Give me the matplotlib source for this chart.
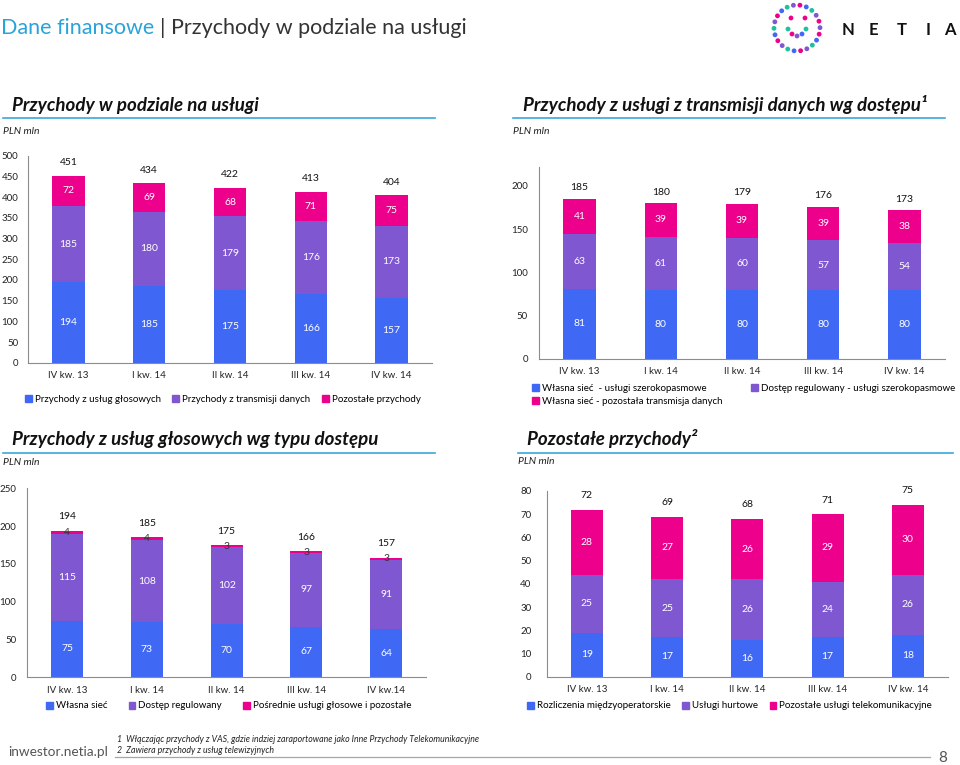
import numpy as np
import matplotlib.pyplot as plt
from matplotlib.patches import Patch
from matplotlib.lines import Line2D

plt.rcParams['font.family'] = ['Lato', 'DejaVu Sans']

W, H = 960, 765

BLUE = '#3f68f5'
PURPLE = '#7f57d0'
PINK = '#ec008c'
AXIS = '#8c8c8c'
LINE_BLUE = '#3aa8d8'

# data
quarters = ['IV kw. 13', 'I kw. 14', 'II kw. 14', 'III kw. 14', 'IV kw. 14']
quarters_voice = ['IV kw. 13', 'I kw. 14', 'II kw. 14', 'III kw. 14', 'IV kw.14']

rev_voice = [194, 185, 175, 166, 157]
rev_data = [185, 180, 179, 176, 173]
rev_other = [72, 69, 68, 71, 75]
rev_total = [451, 434, 422, 413, 404]
rev_names = ['Przychody z usług głosowych', 'Przychody z transmisji danych', 'Pozostałe przychody']

data_own_bb = [81, 80, 80, 80, 80]
data_reg_bb = [63, 61, 60, 57, 54]
data_own_other = [41, 39, 39, 39, 38]
data_total = [185, 180, 179, 176, 173]
data_names = ['Własna sieć  - usługi szerokopasmowe', 'Dostęp regulowany - usługi szerokopasmowe',
              'Własna sieć - pozostała transmisja danych']

voice_own = [75, 73, 70, 67, 64]
voice_reg = [115, 108, 102, 97, 91]
voice_indirect = [4, 4, 3, 3, 3]
voice_total = [194, 185, 175, 166, 157]
voice_names = ['Własna sieć', 'Dostęp regulowany', 'Pośrednie usługi głosowe i pozostałe']

other_ic = [19, 17, 16, 17, 18]
other_wholesale = [25, 25, 26, 24, 26]
other_telecom = [28, 27, 26, 29, 30]
other_total = [72, 69, 68, 71, 75]
other_names = ['Rozliczenia międzyoperatorskie', 'Usługi hurtowe', 'Pozostałe usługi telekomunikacyjne']

fig = plt.figure(figsize=(9.6, 7.65), dpi=100)


def fx(x):
    return x / W


def fy(y):
    return 1 - y / H


def px_axes(left, top, right, bottom):
    return fig.add_axes([fx(left), fy(bottom), (right - left) / W, (bottom - top) / H])


def stacked(ax, cats, series, totals, ymax, yticks, ypad, total_off):
    colors = [BLUE, PURPLE, PINK]
    x = np.arange(len(cats))
    base = np.zeros(len(cats))
    for vals, col in zip(series, colors):
        vals = np.array(vals, float)
        ax.bar(x, vals, 0.4, bottom=base, color=col, linewidth=0)
        for xi, b, v in zip(x, base, vals):
            tc = 'white' if v > 8 else '#333333'
            ax.text(xi, b + v / 2, f'{v:.0f}', ha='center', va='center', fontsize=7.5, color=tc)
        base += vals
    for xi, top, t in zip(x, base, totals):
        ax.annotate(str(t), (xi, top), xytext=(0, total_off), textcoords='offset pixels',
                    ha='center', va='center', fontsize=7.5, color='#111111')
    ax.set_xlim(-0.5, len(cats) - 0.5)
    ax.set_ylim(0, ymax)
    ax.set_yticks(yticks)
    ax.set_xticks(x)
    ax.set_xticklabels(cats)
    for s in ['top', 'right']:
        ax.spines[s].set_visible(False)
    for s in ['left', 'bottom']:
        ax.spines[s].set_color(AXIS)
        ax.spines[s].set_linewidth(0.8)
    ax.tick_params(length=0, labelsize=7, colors='#222222')
    ax.tick_params(axis='y', pad=ypad)
    ax.tick_params(axis='x', pad=6)
    ax.set_facecolor('none')


def legend(ax, names, x, y, ncol, colsp, order=None, labsp=0.3):
    colors = [BLUE, PURPLE, PINK]
    handles = [Patch(color=c, label=n) for c, n in zip(colors, names)]
    if order is not None:
        handles = [handles[i] for i in order]
    ax.legend(handles=handles, loc='center left', bbox_to_anchor=(fx(x), fy(y)),
              bbox_transform=fig.transFigure, ncol=ncol, frameon=False, fontsize=7,
              handlelength=0.7, handleheight=0.7, handletextpad=0.3,
              columnspacing=colsp, labelspacing=labsp, borderpad=0, borderaxespad=0)


# top left
ax1 = px_axes(28, 155.7, 432, 362.7)
stacked(ax1, quarters, [rev_voice, rev_data, rev_other], rev_total, 500,
        np.arange(0, 501, 50), 7, 13)
legend(ax1, rev_names, 25, 399, 3, 1.2)

# top right
ax2 = px_axes(539, 166.7, 945, 359)
stacked(ax2, quarters, [data_own_bb, data_reg_bb, data_own_other], data_total, 222,
        np.arange(0, 201, 50), 8, 11)
legend(ax2, data_names, 532, 395, 2, 3.0, order=[0, 2, 1], labsp=0.35)

# bottom left
ax3 = px_axes(27.3, 488.3, 426, 677.3)
stacked(ax3, quarters_voice, [voice_own, voice_reg, voice_indirect], voice_total, 250,
        np.arange(0, 251, 50), 8, 14)
legend(ax3, voice_names, 46, 706, 3, 2.2)

# bottom right
ax4 = px_axes(546.7, 491, 948, 676.7)
stacked(ax4, quarters, [other_ic, other_wholesale, other_telecom], other_total, 80,
        np.arange(0, 81, 10), 11, 14)
legend(ax4, other_names, 527, 706, 3, 1.2)

# section headers
heads = [
    (12, 105, 'Przychody w podziale na usługi', 3, 435, 117.5, 3, 131),
    (523, 105, 'Przychody z usługi z transmisji danych wg dostępu¹', 513, 945, 117.5, 513, 131),
    (12, 440, 'Przychody z usług głosowych wg typu dostępu', 3, 435, 452.5, 3, 463),
    (527, 438, 'Pozostałe przychody²', 518, 953, 452.5, 518, 462),
]
for tx, ty, txt, l0, l1, ly, px, py in heads:
    fig.text(fx(tx), fy(ty), txt, fontsize=13.5, fontweight='bold', style='italic',
             va='center', ha='left', color='#111111')
    fig.add_artist(Line2D([fx(l0), fx(l1)], [fy(ly), fy(ly)], color=LINE_BLUE, lw=1.2))
    fig.text(fx(px), fy(py), 'PLN mln', fontsize=7.5, style='italic', va='center', color='#222222')

# main title
t1 = fig.text(fx(1), fy(28), 'Dane finansowe', fontsize=15.5,
              color='#2aa3d9', va='center')
fig.canvas.draw()
bb = t1.get_window_extent()
fig.text(bb.x1 / W + fx(6), fy(28), '| Przychody w podziale na usługi', fontsize=15.5,
         color='#333333', va='center')

# logo
lax = fig.add_axes([fx(768), fy(57), fx(58), 58 / H])
lax.set_xlim(-29, 29)
lax.set_ylim(-29, 29)
lax.set_aspect('equal')
lax.axis('off')
ring_cols = [PINK, PURPLE, '#1fbf9f', BLUE]
ang = np.linspace(0, 2 * np.pi, 22, endpoint=False) + 0.3
lax.scatter(23 * np.cos(ang), 23 * np.sin(ang), s=12,
            c=[ring_cols[i % 4] for i in range(len(ang))], linewidths=0)
lax.scatter([-6, 8, -9, -5, 0, 5, 9], [10, 10, -1, -6, -8, -6, -1], s=12,
            c=[PINK, PINK, '#1fbf9f', PINK, PURPLE, BLUE, '#1fbf9f'], linewidths=0)
for lx, ch in zip([842, 869, 897, 926, 944], 'NETIA'):
    fig.text(fx(lx), fy(30), ch, fontsize=12, fontweight='bold', color='#111111', va='center')

# footer
fig.text(fx(8), fy(752), 'inwestor.netia.pl', fontsize=9.8,
         color='#555555', va='center')
fig.text(fx(117), fy(740), '1  Włączając przychody z VAS, gdzie indziej zaraportowane jako Inne Przychody Telekomunikacyjne',
         fontsize=6.3, style='italic', color='#222222', va='center')
fig.text(fx(117), fy(750.5), '2  Zawiera przychody z usług telewizyjnych',
         fontsize=6.3, style='italic', color='#222222', va='center')
fig.add_artist(Line2D([fx(115), fx(930)], [fy(757), fy(757)], color='#a6a6a6', lw=0.9))
fig.text(fx(938), fy(758), '8', fontsize=11, color='#555555', va='center')

fig.savefig('out.png', dpi=100)
